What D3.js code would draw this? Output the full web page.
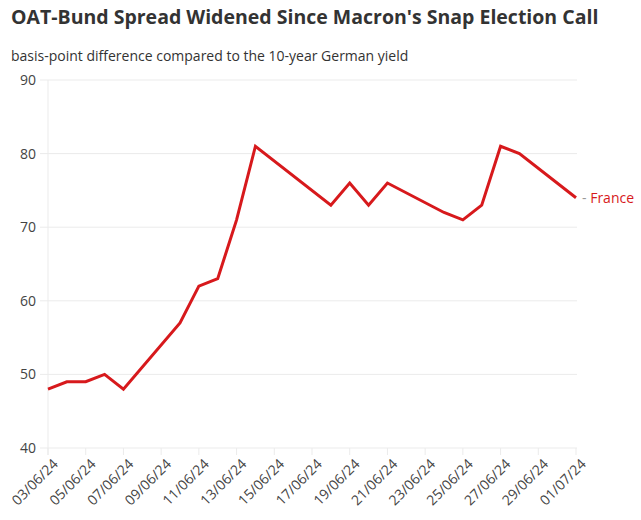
<!DOCTYPE html>
<html><head><meta charset="utf-8">
<script src="https://cdn.jsdelivr.net/npm/d3@7"></script>
<style>
body{margin:0;background:#fff;}
svg{display:block;font-family:"Open Sans",sans-serif;}
</style></head>
<body><svg id="c" width="641" height="520"></svg>
<script>
const dates = ["03/06/24","04/06/24","05/06/24","06/06/24","07/06/24","10/06/24","11/06/24","12/06/24","13/06/24","14/06/24","18/06/24","19/06/24","20/06/24","21/06/24","24/06/24","25/06/24","26/06/24","27/06/24","28/06/24","01/07/24"];
const france = [48,49,49,50,48,57,62,63,71,81,73,76,73,76,72,71,73,81,80,74];
const yTicks = [40,50,60,70,80,90];
const xTickLabels = ["03/06/24","05/06/24","07/06/24","09/06/24","11/06/24","13/06/24","15/06/24","17/06/24","19/06/24","21/06/24","23/06/24","25/06/24","27/06/24","29/06/24","01/07/24"];
const seriesName = "France";

const parse = d3.timeParse("%d/%m/%y");
const svg = d3.select("#c");
const m = {l:48, r:576, t:80, b:448};
const x = d3.scaleTime().domain([parse("03/06/24"), parse("01/07/24")]).range([m.l, m.r]);
const y = d3.scaleLinear().domain([40,90]).range([m.b, m.t]);

svg.append("defs").append("clipPath").attr("id","clipx")
  .append("rect").attr("x",10).attr("y",0).attr("width",631).attr("height",520);

svg.append("text").attr("x",11).attr("y",24).attr("font-size",19.5).attr("font-weight",700).attr("fill","#333")
  .text("OAT-Bund Spread Widened Since Macron's Snap Election Call");
svg.append("text").attr("x",11).attr("y",61).attr("font-size",14).attr("fill","#333")
  .text("basis-point difference compared to the 10-year German yield");

// grid
svg.append("g").selectAll("line").data(yTicks).join("line")
  .attr("x1",m.l-8).attr("x2",m.r+1).attr("y1",d=>y(d)).attr("y2",d=>y(d))
  .attr("stroke","#ebebeb").attr("stroke-width",1);
svg.append("line").attr("x1",m.l).attr("x2",m.l).attr("y1",m.t).attr("y2",m.b+7).attr("stroke","#ebebeb");

// y labels
svg.append("g").selectAll("text").data(yTicks).join("text")
  .attr("x",36).attr("y",d=>y(d)).attr("dy","0.35em").attr("text-anchor","end")
  .attr("font-size",14).attr("fill","#444").text(d=>d);

// x ticks
const xg = svg.append("g");
xg.selectAll("line").data(xTickLabels).join("line")
  .attr("x1",d=>x(parse(d))).attr("x2",d=>x(parse(d))).attr("y1",m.b).attr("y2",m.b+7)
  .attr("stroke","#ebebeb");
xg.append("g").attr("clip-path","url(#clipx)").selectAll("text").data(xTickLabels).join("text")
  .attr("transform",d=>`translate(${x(parse(d))+4},${m.b+10}) rotate(-45)`)
  .attr("text-anchor","end").attr("dy","0.7em").attr("font-size",14).attr("fill","#444").text(d=>d);

// line
const data = dates.map((d,i)=>({date:parse(d), v:france[i]}));
svg.append("path").datum(data)
  .attr("d", d3.line().x(d=>x(d.date)).y(d=>y(d.v)))
  .attr("fill","none").attr("stroke","#d7191c").attr("stroke-width",3).attr("stroke-linejoin","miter");

const last = data[data.length-1];
const lbl = svg.append("text").attr("x",x(last.date)+6).attr("y",y(last.v)).attr("dy","0.35em").attr("font-size",14);
lbl.append("tspan").attr("fill","#999").text("- ");
lbl.append("tspan").attr("fill","#d7191c").text(seriesName);
</script></body></html>
